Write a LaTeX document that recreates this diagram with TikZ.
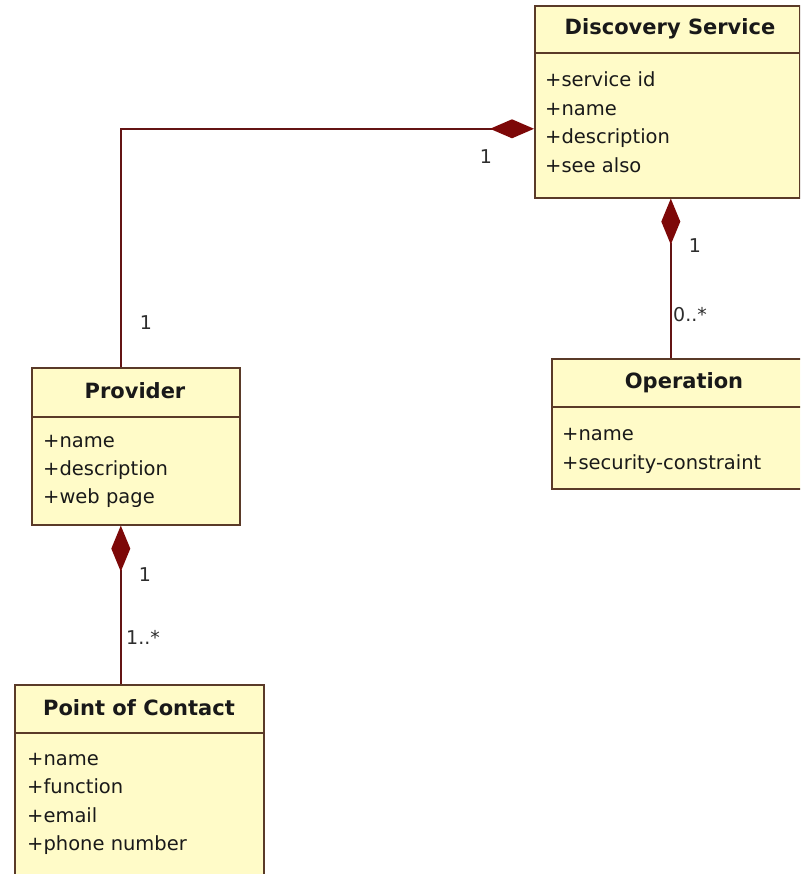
\documentclass[tikz,border=0pt]{standalone}
\usepackage{fontspec}
\setmainfont{DejaVu Sans}
\usetikzlibrary{arrows.meta}
\definecolor{boxfill}{RGB}{255,251,200}
\definecolor{boxline}{RGB}{90,58,40}
\definecolor{assocline}{RGB}{100,20,20}
\definecolor{diamondfill}{RGB}{125,8,8}
\definecolor{txt}{RGB}{25,25,25}
\definecolor{multtxt}{RGB}{45,45,45}
\tikzset{
  umlbox/.style={draw=boxline, fill=boxfill, line width=1.6pt, rectangle, inner sep=0pt, anchor=north west},
  divider/.style={draw=boxline, line width=1.6pt},
  header/.style={font=\fontsize{21}{24}\selectfont\bfseries, text=txt, inner sep=0pt},
  attr/.style={font=\fontsize{19.5}{23}\selectfont, text=txt, inner sep=0pt, anchor=base west},
  mult/.style={font=\fontsize{19}{22}\selectfont, text=multtxt, inner sep=0pt},
  assoc/.style={draw=assocline, line width=1.6pt},
  compo/.style={-{Diamond[length=44pt,width=19pt,fill=diamondfill,color=diamondfill]}},
  compostart/.style={{Diamond[length=46pt,width=19pt,fill=diamondfill,color=diamondfill]}-},
}
\begin{document}
\begin{tikzpicture}[x=1pt,y=-1pt]
\useasboundingbox (0,0) rectangle (800,874);
\clip (0,0) rectangle (800,874);
\fill[white] (0,0) rectangle (800,874);

% Discovery Service
\node[umlbox, minimum width=265pt, minimum height=192pt] (ds) at (534,5) {};
\draw[divider] (534,53) -- (799,53);
\node[header] (dsh) at (670,29) {Discovery Service};
\node[attr] (ds1) at (545,87) {+service id};
\node[attr] (ds2) at (545,116) {+name};
\node[attr] (ds3) at (545,144) {+description};
\node[attr] (ds4) at (545,173) {+see also};

% Operation
\node[umlbox, minimum width=270pt, minimum height=130pt] (op) at (551,358) {};
\draw[divider] (551,407) -- (821,407);
\node[header] (oph) at (684,383) {Operation};
\node[attr] (op1) at (562,440) {+name};
\node[attr] (op2) at (562,469) {+security-constraint};

% Provider
\node[umlbox, minimum width=208pt, minimum height=157pt] (prov) at (31,367) {};
\draw[divider] (31,417) -- (239,417);
\node[header] (provh) at (135,391) {Provider};
\node[attr] (p1) at (43,447) {+name};
\node[attr] (p2) at (43,475) {+description};
\node[attr] (p3) at (43,503) {+web page};

% Point of Contact
\node[umlbox, minimum width=249pt, minimum height=220pt] (poc) at (14,684) {};
\draw[divider] (14,733) -- (263,733);
\node[header] (poch) at (139,708) {Point of Contact};
\node[attr] (c1) at (27,765) {+name};
\node[attr] (c2) at (27,793) {+function};
\node[attr] (c3) at (27,822) {+email};
\node[attr] (c4) at (27,850) {+phone number};

% Connectors
\draw[assoc, compo] ([xshift=-15pt]prov.north) |- ([yshift=-27pt]ds.west);
\draw[assoc, compostart] ([xshift=3.5pt]ds.south) -- ([xshift=3.5pt]ds.south |- op.north);
\draw[assoc, compostart] ([xshift=-15pt]prov.south) -- ([xshift=-15pt]prov.south |- poc.north);

% Multiplicities
\node[mult] (m1) at (486,157) {1};
\node[mult] (m2) at (146,323) {1};
\node[mult] (m3) at (695,246) {1};
\node[mult, anchor=west] (m4) at (673,315) {0..*};
\node[mult] (m5) at (145,575) {1};
\node[mult, anchor=west] (m6) at (126,637) {1..*};
\end{tikzpicture}
\end{document}
